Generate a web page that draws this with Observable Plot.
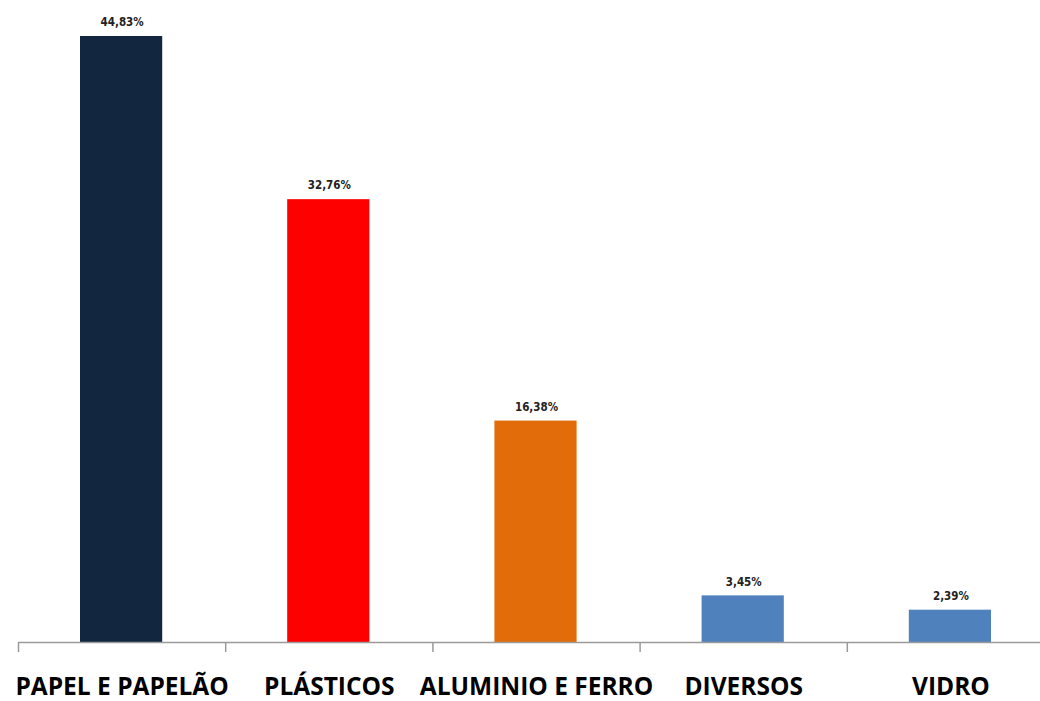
<!DOCTYPE html>
<html>
<head>
<meta charset="utf-8">
<script src="https://cdn.jsdelivr.net/npm/d3@7"></script>
<script src="https://cdn.jsdelivr.net/npm/@observablehq/plot@0.6"></script>
<style>
  html, body { margin: 0; padding: 0; background: #fff; overflow: hidden; }
  #chart svg { display: block; }
</style>
</head>
<body>
<div id="chart"></div>
<script>
const categories = ["PAPEL E PAPELÃO", "PLÁSTICOS", "ALUMINIO E FERRO", "DIVERSOS", "VIDRO"];
const values = [44.83, 32.76, 16.38, 3.45, 2.39];
const colors = ["#13263F", "#FF0000", "#E36C0A", "#4F81BD", "#4F81BD"];
const boundaries = [0, 1, 2, 3, 4, 5];

const data = categories.map((c, i) => ({
  category: c,
  value: values[i],
  x1: i,
  x2: i + 1,
  mid: i + 0.5,
  label: values[i].toFixed(2).replace(".", ",") + "%"
}));

const chart = Plot.plot({
  width: 1040,
  height: 701,
  marginTop: 36,
  marginBottom: 59,
  marginLeft: 18,
  marginRight: 0,
  x: {type: "linear", domain: [0, 5], range: [18, 1054], axis: null},
  y: {domain: [0, 44.83], axis: null},
  color: {domain: categories, range: colors},
  style: {background: "#fff", overflow: "visible"},
  marks: [
    Plot.rectY(data, {x1: "x1", x2: "x2", y1: 0, y2: "value", fill: "category", insetLeft: 62, insetRight: 63}),
    Plot.ruleY([0], {x1: 0, x2: 5, stroke: "#9a9a9a", strokeWidth: 1.5}),
    Plot.axisX(boundaries, {anchor: "bottom", tickSize: 10, tickFormat: () => "", stroke: "#9a9a9a", strokeWidth: 1.5}),
    Plot.text(data, {x: "mid", y: 0, text: "category", dy: 44.5, fontFamily: "Open Sans", fontWeight: "bold", fontSize: 24.5, fill: "#000"}),
    Plot.text(data, {x: "mid", y: "value", text: "label", dy: -14, fontFamily: "DejaVu Sans Condensed, DejaVu Sans", fontWeight: "bold", fontSize: 11.5, fill: "#222"})
  ]
});
document.getElementById("chart").appendChild(chart);
</script>
</body>
</html>
